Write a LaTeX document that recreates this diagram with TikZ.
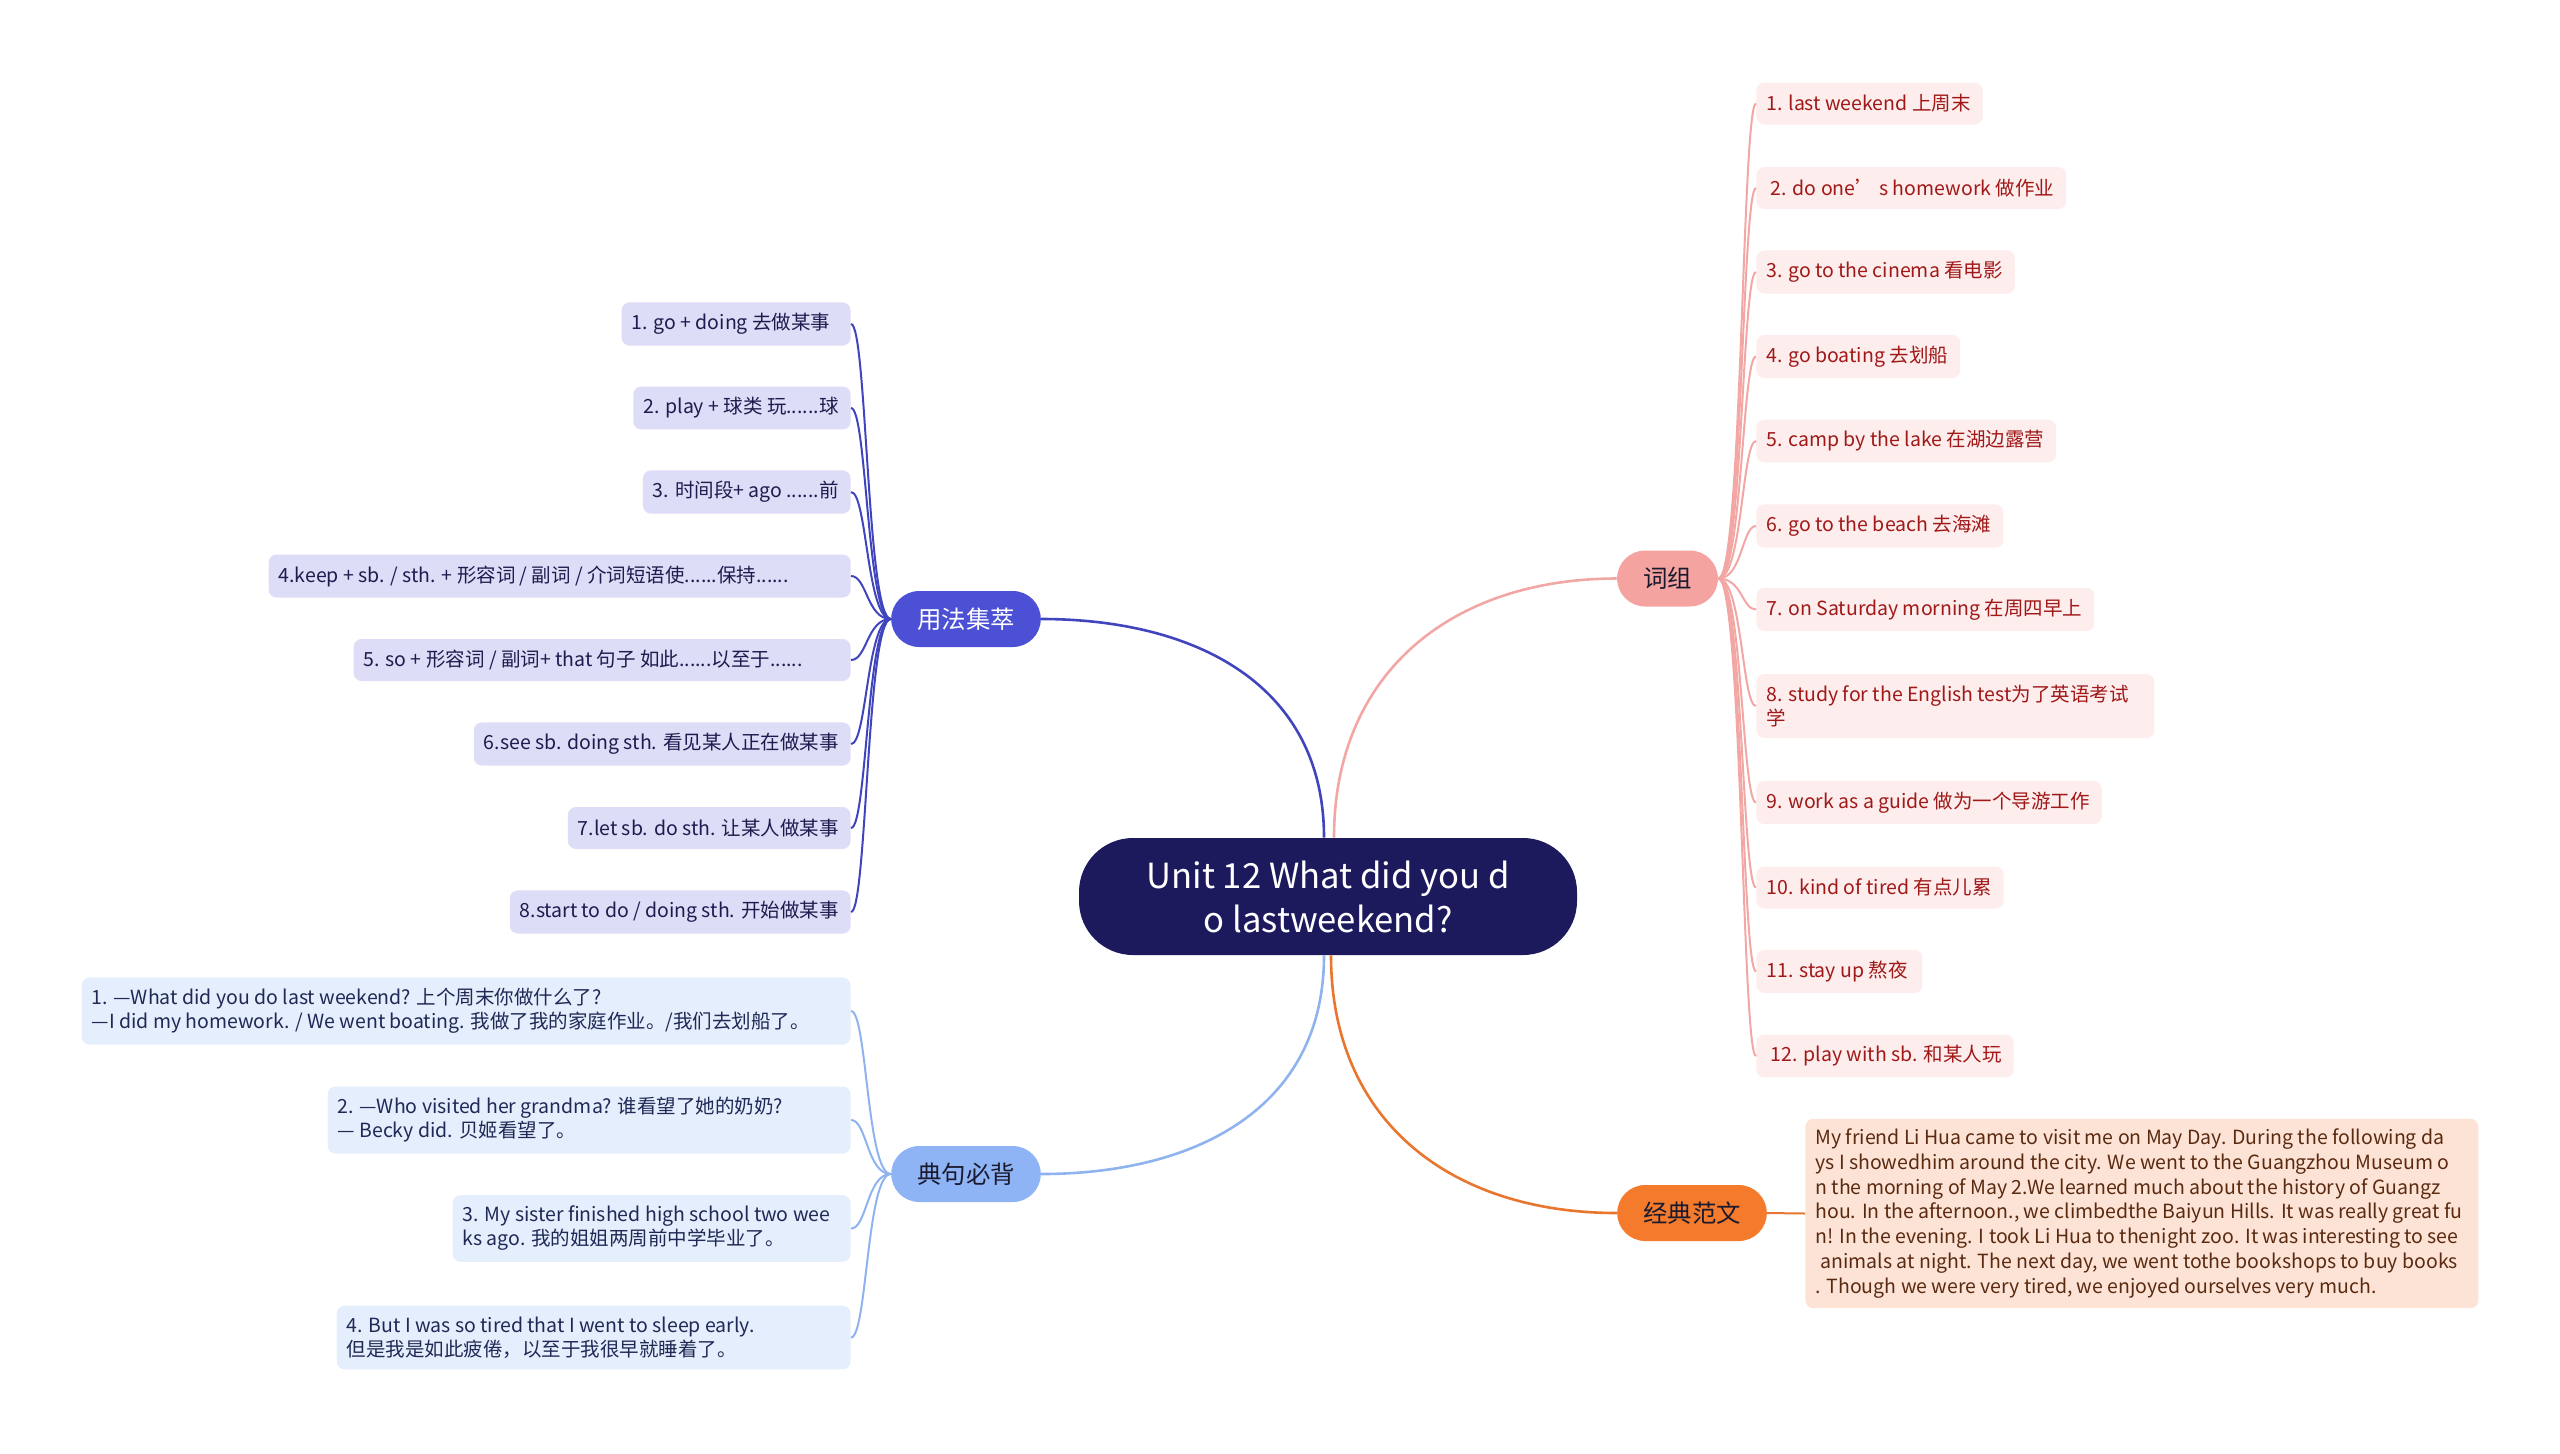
\documentclass[tikz,border=0pt]{standalone}
\usepackage{fontspec}
\setmainfont{Noto Sans CJK SC}
\usepackage{tikz}
\definecolor{rootC}{HTML}{1C1A5C}
\definecolor{usageC}{HTML}{4B50D4}
\definecolor{usageLine}{HTML}{4045BE}
\definecolor{usageL}{HTML}{DDDDF7}
\definecolor{usageT}{HTML}{1E1C4E}
\definecolor{phraseC}{HTML}{F5A3A0}
\definecolor{phraseLine}{HTML}{F2A7A5}
\definecolor{phraseL}{HTML}{FDEDED}
\definecolor{phraseT}{HTML}{A01818}
\definecolor{sentC}{HTML}{8FB4F5}
\definecolor{sentLine}{HTML}{8FB3EE}
\definecolor{sentL}{HTML}{E5EEFC}
\definecolor{sentT}{HTML}{1E2A55}
\definecolor{modelC}{HTML}{F47A2C}
\definecolor{modelLine}{HTML}{E8762E}
\definecolor{modelL}{HTML}{FDE3D6}
\definecolor{modelT}{HTML}{5A2A10}
\definecolor{darkT}{HTML}{1A1A2E}
\newcommand{\leaffont}{\fontsize{9.75}{12}\selectfont}
\newsavebox{\leafbox}
\newdimen\leafw
\newdimen\refw
% box width: the reference width, or the text if that is wider
\newcommand{\fitwidth}[2]{%
    \pgfinterruptpicture
    \global\setbox\leafbox=\hbox{\normalfont\leaffont\begin{tabular}{@{}l@{}}#2\end{tabular}}%
    \endpgfinterruptpicture
    \leafw=\wd\leafbox \advance\leafw by 1pt
    \refw=#1pt \refw=0.5\refw \advance\refw by -10pt
    \ifdim\leafw<\refw \leafw=\refw \fi
    \edef\tw{\the\leafw}}
\tikzstyle{root}=[rounded corners=27pt, fill=rootC, text=white, minimum width=249pt, minimum height=58.5pt, align=center, font=\fontsize{17.3}{22}\selectfont]
\tikzstyle{branch}=[rounded corners=14pt, minimum height=28pt, inner xsep=13pt, text=darkT, font=\fontsize{12.2}{14}\selectfont]
\tikzstyle{leaf}=[rounded corners=4pt, minimum height=21pt, inner xsep=5pt, inner ysep=5.5pt, align=justify, font=\leaffont]
\tikzstyle{main}=[line width=1.3pt]
\tikzstyle{sub}=[line width=1pt]

\begin{document}
\begin{tikzpicture}[x=0.5pt, y=-0.5pt]
    \useasboundingbox (0,0) rectangle (2560,1453);

    %root
    \node[root] (root) at (1328,896.5) {Unit 12 What did you d\\o lastweekend?};

    %branches
    \node[branch, fill=usageC, text=white] (usage) at (966,619) {用法集萃};
    \node[branch, fill=phraseC] (phrase) at (1667.5,578.5) {词组};
    \node[branch, fill=sentC] (sent) at (966,1174) {典句必背};
    \node[branch, fill=modelC] (model) at (1692,1213) {经典范文};

    \draw[main, usageLine] ([xshift=-2pt]root.north) to[out=90, in=0, looseness=1.1] (usage.east);
    \draw[main, phraseLine] ([xshift=3pt]root.north) to[out=90, in=180, looseness=1.1] (phrase.west);
    \draw[main, sentLine] ([xshift=-2pt]root.south) to[out=-90, in=0, looseness=1.1] (sent.east);
    \draw[main, modelLine] ([xshift=1.5pt]root.south) to[out=-90, in=180, looseness=1.1] (model.west);

    %usage leaves
    \foreach \i/\w/\t in {1/229/{1. go + doing 去做某事}, 2/216/{2. play + 球类 玩......球}, 3/206/{3. 时间段+ ago ......前},
        4/582/{4.keep + sb. / sth. + 形容词 / 副词 / 介词短语使......保持......}, 5/497/{5. so + 形容词 / 副词+ that 句子 如此......以至于......},
        6/368/{6.see sb. doing sth. 看见某人正在做某事}, 7/275/{7.let sb. do sth. 让某人做某事}, 8/340/{8.start to do / doing sth. 开始做某事}} {
    \fitwidth{\w}{\t}
    \node[leaf, fill=usageL, text=usageT, anchor=east, text width=\tw] (u\i) at (851,240+84*\i) {\t};
    \draw[sub, usageLine] (usage.west) .. controls +(-24,0) and +(16,0) .. (u\i.east);
    }

    %phrase leaves
    \foreach \i/\y/\w/\t in {1/103.5/221/{1. last weekend 上周末}, 2/188/303/{\ 2. do one’ s homework 做作业}, 3/272/257/{3. go to the cinema 看电影},
        4/356.5/202/{4. go boating 去划船}, 5/441/296/{5. camp by the lake 在湖边露营}, 6/526/247/{6. go to the beach 去海滩},
        7/609.5/334/{7. on Saturday morning 在周四早上}, 8/706/398/{8. study for the English test为了英语考试\\学},
        9/802.5/340/{9. work as a guide 做为一个导游工作}, 10/887.5/244/{10. kind of tired 有点儿累}, 11/971.5/166/{11. stay up 熬夜},
        12/1056/251/{\ 12. play with sb. 和某人玩}} {
    \fitwidth{\w}{\t}
    \node[leaf, fill=phraseL, text=phraseT, anchor=west, text width=\tw] (p\i) at (1756,\y) {\t};
    \draw[sub, phraseLine] (phrase.east) .. controls +(24,0) and +(-14,0) .. (p\i.west);
    }

    %sentence leaves
    \foreach \i/\y/\w/\t in {1/1011/769/{1. —What did you do last weekend? 上个周末你做什么了?\\—I did my homework. / We went boating. 我做了我的家庭作业。/我们去划船了。},
        2/1120/523/{2. —Who visited her grandma? 谁看望了她的奶奶?\\— Becky did. 贝姬看望了。},
        3/1228.5/398/{3. My sister finished high school two wee\\ks ago. 我的姐姐两周前中学毕业了。},
        4/1337.5/514/{4. But I was so tired that I went to sleep early.\\但是我是如此疲倦，以至于我很早就睡着了。}} {
    \fitwidth{\w}{\t}
    \node[leaf, fill=sentL, text=sentT, anchor=east, text width=\tw] (s\i) at (851,\y) {\t};
    \draw[sub, sentLine] (sent.west) .. controls +(-24,0) and +(16,0) .. (s\i.east);
    }

    %model essay
    \fitwidth{673}{My friend Li Hua came to visit me on May Day. During the following da\\ys I showedhim around the city. We went to the Guangzhou Museum o\\n the morning of May 2.We learned much about the history of Guangz\\hou. In the afternoon., we climbedthe Baiyun Hills. It was really great fu\\n! In the evening. I took Li Hua to thenight zoo. It was interesting to see\\\hspace*{2.5pt}animals at night. The next day, we went tothe bookshops to buy books\\. Though we were very tired, we enjoyed ourselves very much.}
    \node[leaf, fill=modelL, text=modelT, anchor=west, inner ysep=5pt, text width=\tw, font=\fontsize{9.75}{12.4}\selectfont] (modeltext) at (1805,1213.5)
        {My friend Li Hua came to visit me on May Day. During the following da\\ys I showedhim around the city. We went to the Guangzhou Museum o\\n the morning of May 2.We learned much about the history of Guangz\\hou. In the afternoon., we climbedthe Baiyun Hills. It was really great fu\\n! In the evening. I took Li Hua to thenight zoo. It was interesting to see\\\hspace*{2.5pt}animals at night. The next day, we went tothe bookshops to buy books\\. Though we were very tired, we enjoyed ourselves very much.};
    \draw[sub, modelLine] (model.east) -- (modeltext.west);

\end{tikzpicture}
\end{document}
